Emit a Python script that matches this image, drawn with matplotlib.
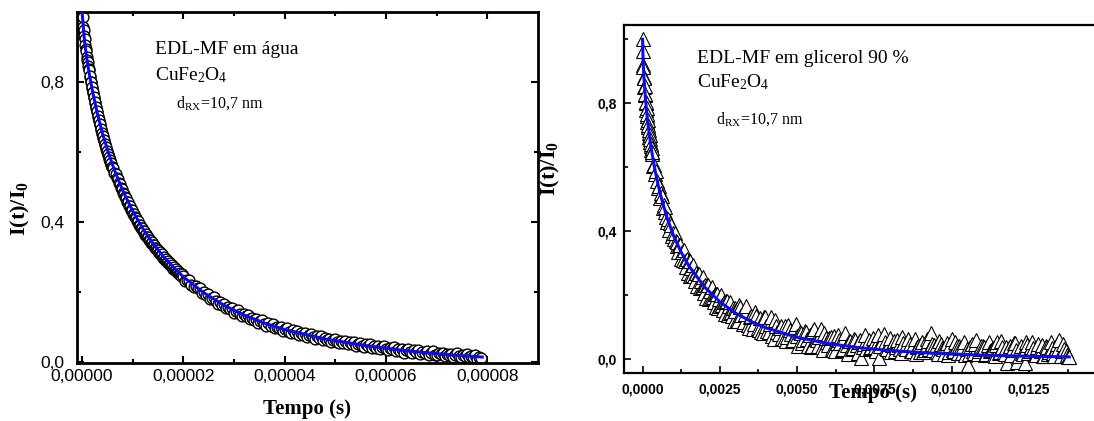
import numpy as np
import matplotlib
matplotlib.use('Agg')
import matplotlib.pyplot as plt
from matplotlib.ticker import FuncFormatter, FixedLocator

plt.rcParams['font.family'] = ['Liberation Sans', 'DejaVu Sans']
plt.rcParams['mathtext.fontset'] = 'custom'
plt.rcParams['mathtext.rm'] = 'Liberation Serif'
plt.rcParams['mathtext.it'] = 'Liberation Serif:italic'
plt.rcParams['mathtext.bf'] = 'Liberation Serif:bold'

# ---- EDL-MF em agua (tempo em microssegundos) ----
# acquisition was done in three stretches with different time steps
agua_t_us = np.concatenate([np.arange(60) * 0.1,
                            6.0 + np.arange(70) * 0.2,
                            20.0 + np.arange(148) * 0.4])
agua_y = [
    # 0 - 5.9 us
    1.000, 0.985, 0.958, 0.949, 0.930, 0.922, 0.905, 0.893, 0.889, 0.870,
    0.864, 0.858, 0.845, 0.836, 0.834, 0.815, 0.816, 0.799, 0.801, 0.784,
    0.786, 0.768, 0.770, 0.754, 0.757, 0.741, 0.743, 0.726, 0.729, 0.714,
    0.716, 0.701, 0.703, 0.688, 0.691, 0.676, 0.679, 0.664, 0.667, 0.652,
    0.655, 0.641, 0.645, 0.630, 0.634, 0.620, 0.623, 0.609, 0.613, 0.600,
    0.604, 0.590, 0.595, 0.581, 0.586, 0.572, 0.577, 0.564, 0.569, 0.556,
    # 6 - 19.8 us
    0.558, 0.553, 0.540, 0.537, 0.525, 0.522, 0.510, 0.508, 0.496, 0.494,
    0.483, 0.481, 0.470, 0.469, 0.458, 0.457, 0.446, 0.445, 0.435, 0.434,
    0.423, 0.423, 0.413, 0.412, 0.402, 0.402, 0.392, 0.392, 0.383, 0.383,
    0.373, 0.375, 0.364, 0.366, 0.357, 0.357, 0.349, 0.349, 0.341, 0.342,
    0.334, 0.334, 0.326, 0.327, 0.319, 0.321, 0.311, 0.314, 0.305, 0.308,
    0.298, 0.301, 0.292, 0.295, 0.285, 0.289, 0.279, 0.283, 0.273, 0.277,
    0.267, 0.271, 0.262, 0.266, 0.256, 0.261, 0.251, 0.255, 0.245, 0.250,
    # 20 - 78.8 us
    0.247, 0.232, 0.234, 0.234, 0.221, 0.214, 0.218, 0.210, 0.211, 0.198,
    0.200, 0.192, 0.194, 0.181, 0.184, 0.185, 0.173, 0.167, 0.172, 0.164,
    0.167, 0.155, 0.158, 0.151, 0.154, 0.141, 0.145, 0.148, 0.136, 0.132,
    0.137, 0.131, 0.134, 0.123, 0.126, 0.120, 0.124, 0.112, 0.116, 0.119,
    0.108, 0.104, 0.110, 0.104, 0.108, 0.097, 0.101, 0.096, 0.100, 0.088,
    0.094, 0.097, 0.087, 0.083, 0.090, 0.084, 0.089, 0.078, 0.083, 0.077,
    0.082, 0.071, 0.076, 0.080, 0.070, 0.067, 0.073, 0.068, 0.073, 0.063,
    0.068, 0.063, 0.067, 0.056, 0.062, 0.066, 0.056, 0.053, 0.060, 0.055,
    0.060, 0.051, 0.056, 0.051, 0.056, 0.045, 0.051, 0.055, 0.046, 0.043,
    0.050, 0.045, 0.050, 0.041, 0.046, 0.041, 0.047, 0.036, 0.042, 0.047,
    0.037, 0.034, 0.041, 0.037, 0.042, 0.032, 0.037, 0.032, 0.038, 0.027,
    0.033, 0.037, 0.028, 0.025, 0.033, 0.028, 0.033, 0.024, 0.029, 0.025,
    0.030, 0.020, 0.026, 0.031, 0.021, 0.019, 0.026, 0.022, 0.027, 0.018,
    0.023, 0.019, 0.024, 0.014, 0.020, 0.025, 0.016, 0.013, 0.021, 0.016,
    0.022, 0.013, 0.018, 0.014, 0.019, 0.009, 0.015, 0.012]
agua_fit_t_us = [0, 0.5, 1, 1.5, 2, 3, 4, 5, 6, 7, 8, 10, 12, 14, 16, 18, 20,
                 24, 28, 32, 36, 40, 48, 56, 64, 72, 79]
agua_fit_y = [1.0, 0.915, 0.861, 0.817, 0.778, 0.711, 0.655, 0.607, 0.564, 0.526,
              0.491, 0.431, 0.381, 0.339, 0.302, 0.271, 0.243, 0.198, 0.162, 0.134,
              0.111, 0.0927, 0.0655, 0.0468, 0.032, 0.021, 0.014]

# ---- EDL-MF em glicerol 90 % (tempo em milissegundos) ----
glic_t_ms = np.concatenate([np.arange(32) * 0.01,
                            0.32 + np.arange(90) * 0.03,
                            3.0 + np.arange(136) * 0.08,
                            3.04 + np.arange(135) * 0.08])
glic_y = [
    # 0 - 0.31 ms
    1.000, 0.962, 0.921, 0.915, 0.882, 0.880, 0.851, 0.853, 0.825, 0.828,
    0.800, 0.804, 0.779, 0.784, 0.759, 0.765, 0.741, 0.748, 0.726, 0.731,
    0.708, 0.715, 0.694, 0.700, 0.679, 0.687, 0.666, 0.673, 0.653, 0.660,
    0.640, 0.648,
    # 0.32 - 2.99 ms
    0.647, 0.603, 0.606, 0.579, 0.588, 0.556, 0.534, 0.540, 0.503, 0.519,
    0.510, 0.472, 0.481, 0.459, 0.474, 0.445, 0.427, 0.437, 0.404, 0.424,
    0.418, 0.383, 0.395, 0.376, 0.393, 0.367, 0.352, 0.364, 0.333, 0.355,
    0.357, 0.311, 0.333, 0.310, 0.341, 0.306, 0.288, 0.311, 0.269, 0.306,
    0.305, 0.260, 0.284, 0.261, 0.293, 0.260, 0.243, 0.267, 0.226, 0.264,
    0.264, 0.220, 0.244, 0.223, 0.256, 0.223, 0.207, 0.231, 0.191, 0.230,
    0.230, 0.187, 0.212, 0.191, 0.225, 0.193, 0.177, 0.202, 0.163, 0.202,
    0.203, 0.160, 0.186, 0.165, 0.199, 0.167, 0.152, 0.178, 0.139, 0.179,
    0.180, 0.138, 0.164, 0.144, 0.178, 0.147, 0.132, 0.158, 0.119, 0.159,
    # 3.00 - 13.80 ms, every 0.08 ms
    0.150, 0.118, 0.162, 0.109, 0.141, 0.104, 0.131, 0.093, 0.145, 0.097,
    0.128, 0.079, 0.131, 0.088, 0.109, 0.071, 0.120, 0.083, 0.097, 0.064,
    0.102, 0.069, 0.091, 0.055, 0.098, 0.072, 0.083, 0.049, 0.087, 0.062,
    0.075, 0.041, 0.093, 0.058, 0.069, 0.036, 0.079, 0.052, 0.064, 0.030,
    0.071, 0.048, 0.058, 0.027, 0.066, 0.043, 0.055, 0.031, 0.062, 0.044,
    0.053, 0.002, 0.047, 0.029, 0.058, 0.036, 0.049, 0.024, 0.001, 0.052,
    0.076, 0.033, 0.045, 0.021, 0.056, 0.037, 0.042, 0.018, 0.050, 0.031,
    0.063, 0.025, 0.044, 0.016, 0.039, 0.047, 0.022, 0.035, 0.054, 0.079,
    0.027, 0.041, 0.013, 0.046, 0.030, 0.038, 0.011, 0.043, 0.026, 0.052,
    0.019, 0.034, 0.041, 0.012, -0.019, 0.036, 0.023, 0.047, 0.015, 0.031,
    0.039, 0.010, 0.044, 0.025, 0.033, 0.008, 0.051, 0.020, 0.036, 0.014,
    -0.014, 0.040, 0.027, 0.048, -0.012, 0.030, 0.019, -0.013, 0.042, 0.024,
    0.053, 0.012, 0.035, 0.026, 0.044, 0.009, 0.038, 0.021, 0.033, 0.007,
    0.045, 0.058, 0.024, 0.031, 0.012, 0.006,
    # 3.04 - 13.76 ms, every 0.08 ms
    0.121, 0.167, 0.137, 0.116, 0.164, 0.095, 0.132, 0.109, 0.132, 0.089,
    0.083, 0.130, 0.102, 0.082, 0.131, 0.063, 0.101, 0.078, 0.103, 0.060,
    0.056, 0.104, 0.077, 0.058, 0.108, 0.041, 0.079, 0.057, 0.083, 0.041,
    0.037, 0.086, 0.060, 0.041, 0.092, 0.026, 0.064, 0.043, 0.069, 0.028,
    0.025, 0.074, 0.048, 0.030, 0.081, 0.015, 0.054, 0.033, 0.058, 0.017,
    0.059, 0.037, 0.073, 0.049, 0.032, 0.064, 0.037, 0.075, 0.040, 0.055,
    0.052, 0.030, 0.066, 0.042, 0.025, 0.057, 0.031, 0.068, 0.034, 0.049,
    0.047, 0.024, 0.061, 0.037, 0.020, 0.052, 0.026, 0.063, 0.029, 0.045,
    0.042, 0.020, 0.056, 0.033, 0.016, 0.048, 0.022, 0.060, 0.025, 0.041,
    0.039, 0.017, 0.053, 0.030, 0.013, 0.046, 0.019, 0.057, 0.023, 0.039,
    0.036, 0.014, 0.051, 0.028, 0.010, 0.043, 0.017, 0.055, 0.021, 0.036,
    0.034, 0.012, 0.049, 0.026, 0.008, 0.041, 0.015, 0.053, 0.019, 0.035,
    0.032, 0.010, 0.047, 0.024, 0.007, 0.040, 0.014, 0.051, 0.017, 0.033,
    0.031, 0.009, 0.046, 0.023, 0.005]
glic_fit_t_ms = [0, 0.02, 0.05, 0.1, 0.15, 0.2, 0.3, 0.4, 0.5, 0.6, 0.8, 1.0, 1.25,
                 1.5, 2.0, 2.5, 3.0, 3.5, 4.0, 5.0, 6.0, 7.0, 8.0, 9.0, 10.0, 11.0,
                 12.0, 13.0, 13.8]
glic_fit_y = [1.0, 0.928, 0.873, 0.808, 0.758, 0.716, 0.647, 0.592, 0.546, 0.506,
              0.439, 0.386, 0.333, 0.290, 0.225, 0.178, 0.143, 0.117, 0.096, 0.0667,
              0.0474, 0.0344, 0.0253, 0.0189, 0.0143, 0.0109, 0.0084, 0.0065, 0.0053]

assert len(agua_t_us) == len(agua_y)
assert len(glic_t_ms) == len(glic_y)

W, H = 1094, 421
FIT_COLOR = '#0b0bee'
SERIF = 'Liberation Serif'


def comma_fmt(decimals):
    return FuncFormatter(lambda v, p: f'{v:.{decimals}f}'.replace('.', ','))


def put_text(fig, x, y, s, **kw):
    '''place text with pixel coordinates measured from the top left corner'''
    fig.text(x / W, 1 - y / H, s, **kw)


fig = plt.figure(figsize=(W / 100, H / 100), dpi=100)

# left panel
ax1 = fig.add_axes([77 / W, 58 / H, 461 / W, 351 / H])
ax1.plot(np.array(agua_t_us) * 1e-6, agua_y, 'o', ms=7.8, mfc='white',
         mec='black', mew=1.0, ls='none', zorder=2)
ax1.plot(np.array(agua_fit_t_us) * 1e-6, agua_fit_y, color=FIT_COLOR, lw=2.2, zorder=3)
ax1.set_xlim(-1e-6, 9e-5)
ax1.set_ylim(-0.003, 1.0)
ax1.xaxis.set_major_locator(FixedLocator([0, 2e-5, 4e-5, 6e-5, 8e-5]))
ax1.xaxis.set_minor_locator(FixedLocator([1e-5, 3e-5, 5e-5, 7e-5]))
ax1.yaxis.set_major_locator(FixedLocator([0, 0.4, 0.8]))
ax1.yaxis.set_minor_locator(FixedLocator([0.2, 0.6]))
ax1.xaxis.set_major_formatter(comma_fmt(5))
ax1.yaxis.set_major_formatter(comma_fmt(1))
ax1.tick_params(which='both', direction='in', top=True, right=True, width=1.5)
ax1.tick_params(which='major', length=5)
ax1.tick_params(which='minor', length=3)
ax1.tick_params(axis='x', labelsize=12.5, pad=4.5)
ax1.tick_params(axis='y', labelsize=12.5, pad=9)
for sp in ax1.spines.values():
    sp.set_linewidth(2)

# right panel (samples drawn in time order)
order = np.argsort(glic_t_ms, kind='stable')
ax2 = fig.add_axes([624 / W, 48 / H, 488.5 / W, 348 / H])
ax2.plot(glic_t_ms[order] * 1e-3, np.array(glic_y)[order], '^', ms=10.3, mfc='white',
         mec='black', mew=0.8, ls='none', zorder=2)
ax2.plot(np.array(glic_fit_t_ms) * 1e-3, glic_fit_y, color=FIT_COLOR, lw=2.2, zorder=3)
ax2.set_xlim(-0.0006, 0.0152)
ax2.set_ylim(-0.045, 1.045)
ax2.xaxis.set_major_locator(FixedLocator([0, 0.0025, 0.005, 0.0075, 0.01, 0.0125]))
ax2.xaxis.set_minor_locator(FixedLocator([0.00125, 0.00375, 0.00625, 0.00875,
                                          0.01125, 0.01375]))
ax2.yaxis.set_major_locator(FixedLocator([0, 0.4, 0.8]))
ax2.yaxis.set_minor_locator(FixedLocator([0.2, 0.6, 1.0]))
ax2.xaxis.set_major_formatter(comma_fmt(4))
ax2.yaxis.set_major_formatter(comma_fmt(1))
ax2.tick_params(which='both', direction='in', width=1.2)
ax2.tick_params(which='major', length=5)
ax2.tick_params(which='minor', length=3)
ax2.tick_params(axis='x', pad=7)
ax2.tick_params(axis='y', pad=5)
for lab in ax2.get_xticklabels() + ax2.get_yticklabels():
    lab.set_fontsize(10)
    lab.set_fontweight('bold')
for sp in ax2.spines.values():
    sp.set_linewidth(1.6)

# axis titles
put_text(fig, 20, 208, r'$\mathbf{I(t)/I_0}$', fontsize=16, rotation=90,
         ha='center', va='center')
put_text(fig, 307, 409, 'Tempo (s)', family=SERIF, fontsize=15,
         fontweight='bold', ha='center', va='center')
put_text(fig, 550, 168, r'$\mathbf{I(t)/I_0}$', fontsize=16, rotation=90,
         ha='center', va='center')
put_text(fig, 873, 393, 'Tempo (s)', family=SERIF, fontsize=15,
         fontweight='bold', ha='center', va='center')

# annotations
put_text(fig, 155, 54, 'EDL-MF em água', family=SERIF, fontsize=14, va='baseline')
put_text(fig, 155, 80, r'$\mathrm{CuFe_2O_4}$', fontsize=14, va='baseline')
put_text(fig, 176, 108, r'$\mathrm{d_{RX}}$=10,7 nm', family=SERIF, fontsize=11.5,
         va='baseline')
put_text(fig, 697, 63, 'EDL-MF em glicerol 90 %', family=SERIF, fontsize=14,
         va='baseline')
put_text(fig, 697, 87, r'$\mathrm{CuFe_2O_4}$', fontsize=14, va='baseline')
put_text(fig, 716, 124, r'$\mathrm{d_{RX}}$=10,7 nm', family=SERIF, fontsize=11.5,
         va='baseline')

fig.savefig('out.png', dpi=100, facecolor='white')
